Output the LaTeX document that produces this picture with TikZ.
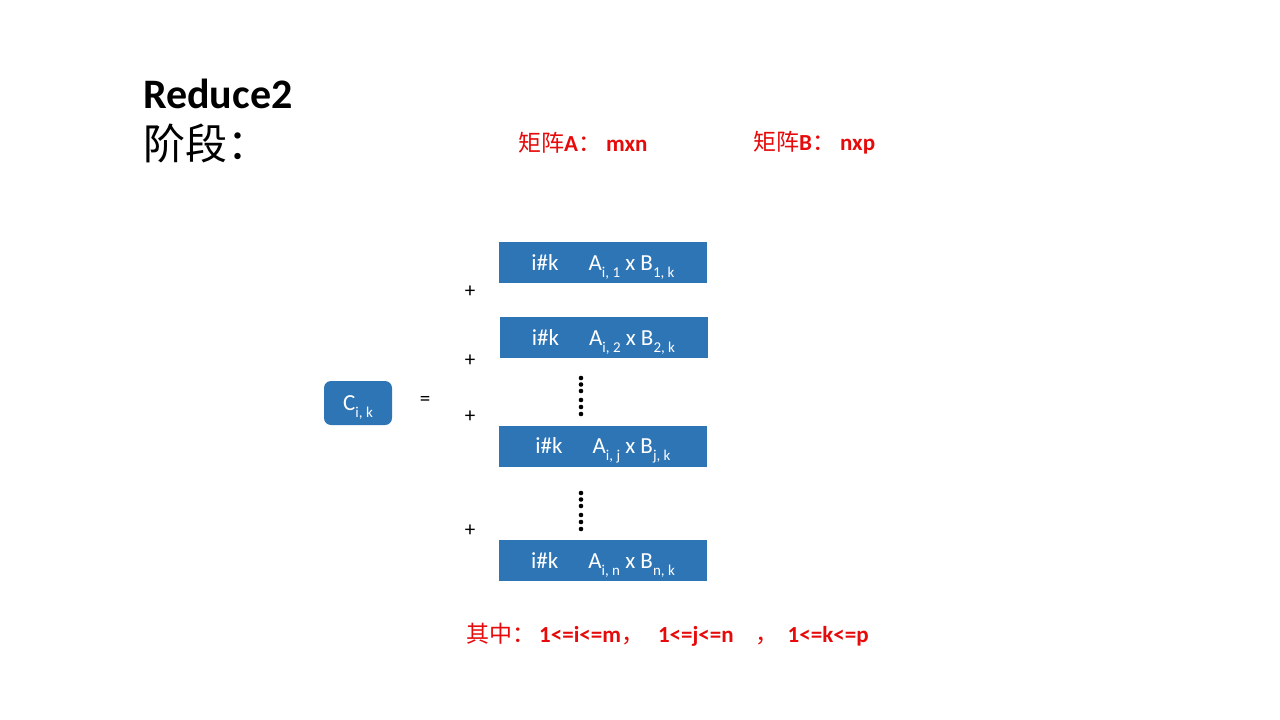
\documentclass[tikz,border=0pt]{standalone}
\usepackage{fontspec}
\setmainfont{Carlito}
\newfontfamily\cjk{Noto Sans CJK SC}
\definecolor{boxblue}{RGB}{46,117,182}
\definecolor{notered}{RGB}{230,10,10}
\newcommand\lowidx[1]{\smash{\raisebox{-0.3em}{\fontsize{15}{15}\selectfont #1}}}
\newcommand\zh[1]{{\cjk\mdseries #1}}
\tikzset{
  prodbox/.style={fill=boxblue,text=white,minimum width=208pt,minimum height=41pt,
    inner sep=0pt,font=\fontsize{23}{26}\selectfont},
  sumbox/.style={prodbox,rounded corners=7pt,minimum width=68pt,minimum height=44pt},
  sign/.style={inner sep=0pt,font=\fontsize{21}{24}\selectfont},
  redtext/.style={text=notered,anchor=west,inner sep=0pt,
    font=\fontsize{23}{27}\selectfont\bfseries}
}

\begin{document}
\begin{tikzpicture}[x=1pt,y=-1pt]
\useasboundingbox (0,0) rectangle (1280,720);
% heading
\node[anchor=base west,inner sep=0pt,font=\fontsize{42}{50}\selectfont\bfseries] (title) at (143,108) {Reduce2};
\node[anchor=west,inner sep=0pt,font=\fontsize{42}{50}\selectfont\cjk] (stage) at (143,143) {阶段：};
\node[redtext] (dimA) at (518,143) {\zh{矩阵}A\zh{：}\hspace{5pt}mxn};
\node[redtext] (dimB) at (753,143) {\zh{矩阵}B\zh{：}\hspace{5pt}nxp};
% sum of products
\node[sumbox] (C) at (358,403) {C\lowidx{i, k}};
\node[sign] (eq) at (425,401) {=};
\node[prodbox] (p1) at (603,262.5) {i\#k\hspace{30pt}A\lowidx{i, 1} x B\lowidx{1, k}};
\node[prodbox] (p2) at (603.5,337.5) {i\#k\hspace{30pt}A\lowidx{i, 2} x B\lowidx{2, k}};
\node[prodbox] (pj) at (603,446) {i\#k\hspace{30pt}A\lowidx{i, j} x B\lowidx{j, k}};
\node[prodbox] (pn) at (603,560.5) {i\#k\hspace{30pt}A\lowidx{i, n} x B\lowidx{n, k}};
\foreach \y [count=\i] in {292,361,417,531}
  \node[sign] (plus\i) at (470,\y) {+};
% dots
\foreach \d in {0,6.5,13,22,29,36} {
  \fill (581,{378+\d}) circle (2.3pt);
  \fill (581,{493+\d}) circle (2.3pt);
}
% ranges
\node[redtext] (range) at (466,635) {\zh{其中：}\hspace{4pt}1<=i<=m\zh{，}\hspace{14pt}1<=j<=n\hspace{22pt}\zh{，}\hspace{9pt}1<=k<=p};
\end{tikzpicture}
\end{document}
